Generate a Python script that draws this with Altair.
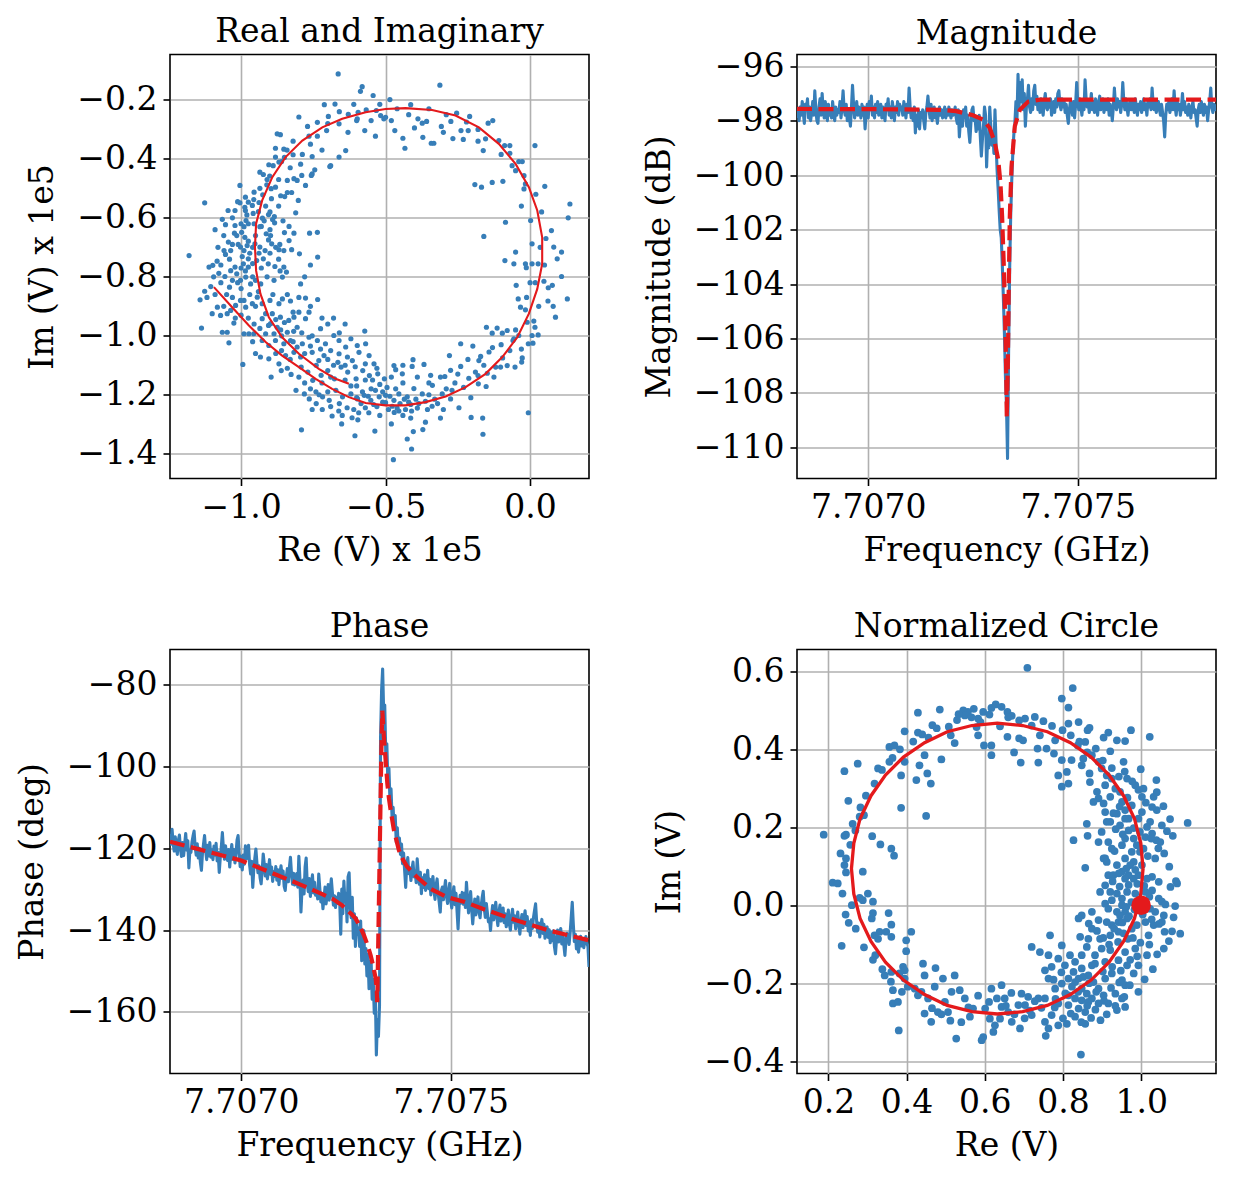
import altair as alt
import pandas as pd

# ---------------- data ----------------
F0_GHZ = 7.70733          # centre of the sweep (GHz)
STEP_KHZ = 2.5            # sweep step
START_KHZ = -500.0

MAG_DB = [
    -97.9, -97.6, -98.0, -97.5, -97.8, -97.3, -97.7, -98.1, -97.4, -97.6, -97.2, -97.9, -97.5, -98.0, -97.7, -97.3, -97.8, -96.9, -97.6, -98.0,
    -98.1, -97.5, -97.2, -97.8, -97.0, -97.6, -97.9, -97.3, -97.7, -98.0, -97.4, -97.8, -97.6, -97.9, -97.3, -97.7, -98.0, -97.5, -97.8, -97.6,
    -97.7, -97.3, -97.9, -97.5, -96.9, -97.6, -97.8, -97.4, -98.0, -97.6, -97.9, -98.2, -97.5, -96.7, -97.4, -97.9, -97.6, -97.3, -97.8, -97.5,
    -97.6, -97.9, -97.4, -97.8, -97.5, -98.3, -97.7, -97.4, -97.9, -97.3, -97.6, -97.1, -97.8, -97.5, -97.9, -97.4, -97.7, -97.3, -97.8, -97.6,
    -97.4, -97.9, -97.5, -97.7, -98.0, -97.4, -97.6, -97.2, -97.8, -97.5, -97.9, -97.3, -97.6, -98.0, -97.5, -97.7, -97.3, -97.8, -97.4, -97.6,
    -97.5, -97.8, -97.3, -97.6, -97.9, -97.4, -97.7, -96.8, -97.5, -97.9, -97.6, -98.0, -97.5, -98.45, -97.8, -98.2, -97.6, -98.3, -97.7, -97.9,
    -97.6, -98.0, -98.3, -97.7, -97.5, -97.1, -97.6, -97.9, -97.4, -98.0, -97.7, -97.5, -97.9, -97.6, -98.1, -97.7, -97.5, -97.8, -97.6, -97.9,
    -97.7, -97.5, -97.9, -97.6, -97.8, -97.5, -97.7, -97.9, -97.6, -97.8, -97.7, -97.5, -97.9, -98.1, -97.6, -98.6, -98.0, -97.7, -98.2, -97.6,
    -97.9, -97.5, -98.2, -97.8, -98.4, -98.8, -98.1, -97.6, -97.5, -98.0, -97.9, -98.4, -98.0, -98.3, -97.8, -98.6, -99.3, -98.7, -98.2, -97.5,
    -97.8, -99.7, -98.6, -99.0, -97.5, -98.2, -98.9, -98.4, -99.2, -97.6, -98.8, -99.8, -100.5, -101.3, -102.0, -102.3, -103.3, -104.5, -105.8, -107.4,
    -108.5, -110.4, -106.5, -103.5, -101.5, -100.2, -99.2, -98.5, -98.1, -97.3, -97.9, -96.3, -97.5, -96.6, -97.3, -96.5, -97.6, -97.0, -98.2, -97.5,
    -97.2, -96.7, -97.5, -97.7, -97.2, -97.6, -96.9, -96.7, -97.4, -97.1, -97.6, -97.3, -97.7, -97.2, -97.5, -97.8, -97.3, -97.0, -97.5, -97.6,
    -97.3, -97.5, -97.2, -97.8, -97.6, -97.3, -97.7, -97.2, -97.5, -97.0, -96.9, -97.4, -97.6, -97.2, -97.5, -97.3, -97.7, -97.4, -97.8, -98.1,
    -97.6, -97.3, -97.5, -97.8, -97.3, -97.9, -97.4, -96.6, -97.3, -97.6, -97.2, -97.5, -97.8, -97.3, -97.6, -96.5, -97.2, -97.5, -97.3, -97.7,
    -97.4, -97.0, -97.6, -97.3, -97.7, -97.2, -97.5, -97.8, -97.3, -97.1, -97.6, -97.4, -97.2, -97.7, -97.5, -97.3, -97.6, -97.2, -97.8, -97.4,
    -97.6, -98.0, -97.5, -96.8, -97.4, -97.6, -97.2, -97.5, -97.3, -97.7, -97.4, -96.6, -97.3, -97.6, -97.2, -97.5, -97.8, -97.4, -97.3, -97.6,
    -97.3, -97.5, -97.7, -97.2, -97.5, -97.8, -97.4, -97.6, -97.3, -97.7, -97.5, -97.2, -97.6, -97.4, -97.8, -97.3, -97.5, -97.2, -97.6, -96.8,
    -97.4, -97.6, -97.3, -97.7, -97.5, -97.3, -97.6, -97.8, -97.4, -97.7, -98.0, -98.6, -97.8, -97.4, -97.6, -97.3, -97.7, -97.5, -97.2, -97.6,
    -96.9, -97.5, -97.8, -97.3, -97.6, -97.4, -97.8, -97.5, -97.0, -97.6, -97.3, -97.7, -97.5, -97.8, -97.4, -97.6, -97.9, -97.5, -97.3, -97.7,
    -97.6, -97.9, -98.2, -97.6, -97.4, -97.7, -97.3, -97.6, -97.8, -97.4, -97.7, -97.5, -98.0, -97.6, -97.3, -96.8, -97.5, -97.7, -97.4, -97.6,
    -97.4,
]

PHASE_DEG = [
    -116.5, -119.0, -115.4, -118.8, -120.7, -117.2, -119.8, -121.5, -118.0, -116.8, -120.3, -122.0, -118.6, -121.8, -119.0, -116.4, -120.5, -118.2, -124.8, -120.5,
    -121.0, -118.5, -117.0, -115.8, -119.6, -121.7, -118.9, -122.4, -120.0, -123.5, -125.4, -121.2, -119.0, -116.9, -120.5, -122.8, -119.3, -121.9, -118.6, -122.2,
    -120.4, -122.8, -119.5, -121.7, -118.8, -123.1, -121.0, -125.9, -122.3, -119.7, -116.2, -120.1, -122.7, -119.4, -121.8, -123.0, -120.3, -124.6, -121.4, -119.1,
    -122.7, -120.3, -123.6, -121.4, -118.0, -116.9, -121.2, -124.5, -122.0, -125.3, -121.7, -123.9, -119.4, -122.6, -120.8, -119.3, -124.1, -126.3, -123.2, -129.6,
    -125.1, -122.4, -120.2, -123.7, -126.0, -124.3, -127.2, -128.7, -125.5, -121.4, -123.9, -126.8, -124.0, -127.5, -125.2, -122.8, -126.4, -124.6, -128.1, -125.7,
    -126.9, -124.5, -127.8, -125.3, -128.9, -126.0, -124.3, -127.4, -125.6, -129.3, -130.3, -127.1, -125.0, -128.2, -124.6, -122.2, -126.3, -128.8, -126.1, -129.0,
    -128.0, -126.2, -129.5, -122.0, -127.3, -135.6, -130.1, -127.8, -131.2, -124.5, -122.4, -128.7, -130.6, -127.4, -131.8, -129.0, -126.5, -130.9, -128.3, -131.5,
    -130.2, -132.4, -126.3, -129.8, -133.1, -131.0, -134.8, -132.2, -129.5, -133.6, -131.4, -128.9, -132.7, -130.3, -127.5, -130.8, -133.9, -131.6, -134.5, -132.0,
    -133.5, -131.0, -133.0, -141.0, -130.0, -136.0, -128.0, -133.0, -131.0, -138.0, -127.0, -126.0, -134.0, -137.0, -132.0, -142.0, -136.0, -144.0, -137.0, -141.0,
    -139.5, -144.0, -137.8, -147.5, -142.6, -140.1, -148.3, -144.5, -151.2, -146.0, -154.3, -149.8, -147.5, -156.9, -152.0, -160.3, -155.1, -170.5, -162.0, -166.0,
    -158.5, -93.0, -81.5, -76.2, -87.0, -85.0, -97.0, -94.5, -104.0, -100.5, -108.5, -105.5, -112.5, -110.0, -115.5, -112.0, -118.5, -115.0, -120.0, -117.5,
    -121.5, -119.0, -123.8, -121.2, -125.5, -129.6, -124.0, -122.3, -126.2, -124.8, -127.9, -125.1, -123.4, -127.0, -125.6, -128.4, -122.6, -126.3, -128.8, -125.9,
    -131.1, -127.2, -129.6, -126.5, -130.3, -128.0, -125.4, -129.9, -127.6, -131.4, -128.8, -126.9, -130.2, -132.5, -129.1, -127.5, -131.0, -133.2, -135.6, -130.4,
    -129.5, -132.6, -130.0, -127.9, -131.8, -133.5, -130.7, -128.6, -132.9, -134.6, -131.2, -129.4, -133.8, -131.0, -135.2, -139.7, -134.0, -131.5, -133.4, -130.8,
    -133.7, -131.0, -134.5, -128.3, -132.2, -135.8, -133.0, -130.6, -134.9, -138.5, -135.1, -132.4, -136.3, -133.8, -131.9, -135.6, -137.0, -134.2, -132.1, -130.5,
    -134.6, -136.9, -133.5, -135.8, -138.0, -137.2, -140.1, -136.3, -134.0, -137.5, -135.4, -133.2, -136.8, -138.9, -135.7, -133.9, -137.8, -136.1, -134.6, -138.2,
    -136.0, -139.2, -137.4, -135.1, -138.6, -140.0, -136.8, -134.9, -138.1, -136.5, -139.7, -137.3, -135.6, -138.8, -141.0, -137.9, -136.2, -139.4, -137.0, -135.3,
    -138.9, -136.7, -140.2, -138.0, -141.3, -137.5, -139.6, -136.9, -135.2, -133.6, -137.8, -140.5, -138.3, -141.7, -139.0, -137.4, -140.8, -138.6, -142.0, -139.5,
    -139.2, -141.8, -139.9, -143.1, -140.5, -142.6, -140.2, -144.0, -145.8, -142.3, -140.0, -142.9, -141.2, -139.6, -143.4, -141.0, -143.7, -146.2, -142.5, -140.8,
    -141.9, -143.5, -140.6, -137.0, -133.2, -138.5, -142.8, -141.0, -144.6, -142.2, -145.4, -143.0, -141.5, -143.9, -142.1, -144.3, -142.7, -141.6, -143.2, -144.0,
    -149.0,
]

MAG_FIT_KHZ = [-500, -300, -160, -120, -80, -56, -40, -28, -20, -14.4, -10.5, -6.5, -3.3, -0.9, 0.7,
               3.1, 5.5, 7.9, 11.9, 19.9, 31.8, 51.8, 79.7, 200, 500]
MAG_FIT_DB = [-97.57, -97.58, -97.6, -97.65, -97.8, -97.96, -98.27, -98.8, -99.4, -100.3, -101.5, -103.3, -105.2, -107.0, -108.9,
              -107.0, -103.97, -101.5, -99.7, -98.2, -97.6, -97.3, -97.23, -97.23, -97.23]

PHASE_FIT_KHZ = [-500, -400, -330, -260, -193, -150, -113, -90, -77, -67, -57, -47, -37, -29, -21, -15, -9, -7, -5.3,
                 4.5, 6.7, 10.5, 14.6, 18.7, 22.5, 26.6, 34.5, 46.4, 56, 66.5, 90, 122, 162, 200, 246, 326, 405, 500]
PHASE_FIT_DEG = [-118.4, -121.1, -123.0, -125.9, -128.7, -130.6, -132.3, -133.9, -135.2, -136.1, -137.2, -139.0, -141.3, -143.5, -146.2, -148.8, -151.9, -154.2, -157.6,
                 -96.0, -86.4, -92.9, -98.5, -104.2, -107.8, -110.7, -115.6, -120.5, -122.8, -124.6, -127.1, -129.9, -132.0, -133.0, -134.8, -137.6, -140.1, -142.5]

# Real / imaginary raw data (units of 1e-5 V)
RI_POINTS = [
    (-0.664, -0.112), (-0.312, -0.150), (-0.581, -0.155), (-0.587, -0.171), (-0.543, -0.185), (-0.485, -0.199),
    (-0.712, -0.216), (-0.675, -0.214), (-0.413, -0.216), (-0.800, -0.258), (-0.736, -0.276), (-0.698, -0.256),
    (-0.629, -0.249), (-0.595, -0.242), (-0.567, -0.234), (-0.532, -0.236), (-0.517, -0.253), (-0.506, -0.264),
    (-0.500, -0.259), (-0.661, -0.281), (-0.630, -0.310), (-0.598, -0.264), (-0.704, -0.304), (-0.736, -0.323),
    (-0.765, -0.323), (-0.572, -0.304), (-0.535, -0.323), (-0.468, -0.304), (-0.440, -0.330), (-0.433, -0.364),
    (-0.388, -0.264), (-0.400, -0.295), (-0.373, -0.279), (-0.358, -0.273), (-0.371, -0.327), (-0.342, -0.347),
    (-0.333, -0.347), (-0.307, -0.290), (-0.274, -0.273), (-0.254, -0.245), (-0.209, -0.256), (-0.267, -0.331),
    (-0.231, -0.334), (-0.239, -0.304), (-0.214, -0.304), (-0.145, -0.279), (-0.129, -0.270), (-0.154, -0.332),
    (-0.108, -0.338), (-0.088, -0.355), (-0.070, -0.355), (-0.162, -0.372), (-0.070, -0.381), (0.017, -0.355),
    (-0.039, -0.409), (-0.027, -0.409), (-0.062, -0.423), (-0.021, -0.457), (-0.016, -0.485), (0.051, -0.493),
    (-0.191, -0.487), (-0.168, -0.496), (-0.131, -0.480), (-0.094, -0.476), (-0.021, -0.502), (-0.638, -0.372),
    (-0.661, -0.394), (-0.690, -0.423), (-0.754, -0.451),
    (-0.875, -0.315), (-0.864, -0.318), (-0.881, -0.364), (-0.852, -0.367), (-0.841, -0.370), (-0.881, -0.394),
    (-0.860, -0.409), (-0.820, -0.386), (-0.788, -0.385), (-0.754, -0.392), (-0.904, -0.420), (-0.889, -0.423),
    (-0.869, -0.411), (-0.935, -0.445), (-0.923, -0.453), (-0.901, -0.458), (-0.794, -0.418), (-0.790, -0.456),
    (-0.817, -0.467), (-0.840, -0.473), (-0.806, -0.473), (-0.745, -0.437), (-0.757, -0.456), (-0.777, -0.490),
    (-0.693, -0.426), (-1.004, -0.490), (-0.911, -0.488), (-0.896, -0.501), (-0.881, -0.496), (-0.955, -0.513),
    (-0.956, -0.538), (-0.961, -0.558), (-0.925, -0.522), (-0.863, -0.525), (-0.849, -0.528), (-0.840, -0.514),
    (-0.825, -0.514), (-0.802, -0.541), (-0.811, -0.583), (-1.004, -0.549), (-1.021, -0.575), (-1.126, -0.549),
    (-0.987, -0.564), (-0.975, -0.547), (-0.940, -0.579), (-0.926, -0.601), (-0.905, -0.589), (-0.891, -0.606),
    (-0.885, -0.596), (-1.054, -0.623), (-1.021, -0.626), (-0.983, -0.609), (-0.975, -0.620), (-0.955, -0.620),
    (-0.930, -0.629), (-0.913, -0.654), (-0.884, -0.617), (-0.898, -0.660), (-0.834, -0.629), (-0.817, -0.652),
    (-0.763, -0.652), (-0.736, -0.649), (-1.023, -0.652), (-1.015, -0.660), (-0.998, -0.649), (-0.987, -0.666),
    (-0.975, -0.679), (-1.044, -0.682), (-1.059, -0.711), (-1.054, -0.724), (-1.036, -0.711), (-1.002, -0.699),
    (-0.990, -0.711), (-0.979, -0.694), (-0.996, -0.731), (-0.975, -0.739), (-0.952, -0.688), (-0.935, -0.699),
    (-0.917, -0.711), (-0.894, -0.688), (-0.869, -0.708), (-0.852, -0.711), (-0.834, -0.677), (-0.825, -0.708),
    (-0.798, -0.722), (-0.735, -0.733), (-1.180, -0.728), (-1.111, -0.767), (-1.098, -0.761), (-1.083, -0.747),
    (-1.077, -0.788), (-1.056, -0.799), (-1.036, -0.779), (-1.021, -0.767), (-1.015, -0.790), (-0.992, -0.756),
    (-0.975, -0.767), (-0.946, -0.745), (-0.923, -0.739), (-0.906, -0.756), (-0.883, -0.765), (-0.852, -0.767),
    (-0.843, -0.784), (-1.030, -0.812), (-1.002, -0.812), (-0.984, -0.801), (-0.967, -0.824), (-0.950, -0.812),
    (-0.932, -0.824), (-0.886, -0.812), (-0.857, -0.801), (-0.794, -0.824), (-1.142, -0.878), (-1.126, -0.849),
    (-1.105, -0.833), (-1.082, -0.903), (-1.100, -0.925), (-1.071, -0.931), (-1.048, -0.925), (-1.036, -0.914),
    (-1.019, -0.897), (-1.002, -0.880), (-0.984, -0.903), (-0.961, -0.891), (-0.944, -0.869), (-0.927, -0.891),
    (-0.915, -0.925), (-0.892, -0.925), (-0.869, -0.891), (-0.857, -0.875), (-0.829, -0.882), (-0.777, -0.872),
    (-0.735, -0.877), (-1.137, -0.974), (-1.025, -0.957), (-1.065, -0.988), (-1.048, -0.988), (-1.042, -1.024),
    (-0.990, -0.993), (-0.973, -0.993), (-0.956, -0.993), (-0.927, -0.942), (-0.898, -0.959), (-0.875, -0.971),
    (-0.864, -0.937), (-0.835, -0.948), (-0.817, -0.937), (-0.800, -0.920), (-0.777, -0.942), (-0.765, -0.920),
    (-0.915, -0.993), (-0.886, -0.993), (-0.863, -0.980), (-0.840, -0.988), (-0.806, -0.971), (-0.754, -1.000),
    (-0.725, -0.976), (-0.572, -0.984),
    (-1.060, -0.660), (-1.040, -0.740), (-1.010, -0.690), (-0.970, -0.720), (-0.950, -0.660), (-0.930, -0.770),
    (-1.030, -0.600), (-0.990, -0.630), (-0.960, -0.800), (-1.080, -0.700), (-1.070, -0.820), (-0.940, -0.850),
    (-0.910, -0.800), (-0.970, -0.860), (-1.000, -0.840), (-1.050, -0.860), (-0.920, -0.610), (-0.900, -0.720),
    (-0.870, -0.740), (-0.890, -0.860),
    (-0.927, -1.016), (-0.881, -1.016), (-0.904, -1.033), (-0.852, -1.027), (-0.829, -1.016), (-0.806, -1.038),
    (-0.788, -1.027), (-0.765, -1.005), (-0.736, -1.016), (-0.708, -1.027), (-0.679, -0.999), (-0.661, -1.016),
    (-0.638, -1.038), (-0.598, -1.033), (-0.569, -1.027), (-0.933, -1.072), (-0.904, -1.078), (-0.869, -1.095),
    (-0.846, -1.067), (-0.817, -1.056), (-0.794, -1.072), (-0.754, -1.056), (-0.731, -1.084), (-0.713, -1.067),
    (-0.690, -1.050), (-0.661, -1.061), (-0.632, -1.072), (-0.615, -1.084), (-0.592, -1.056), (-0.557, -1.067),
    (-0.540, -1.095), (-0.994, -1.097), (-0.896, -1.140), (-0.861, -1.118), (-0.827, -1.131), (-0.792, -1.106),
    (-0.769, -1.123), (-0.752, -1.151), (-0.723, -1.134), (-0.700, -1.118), (-0.677, -1.146), (-0.654, -1.106),
    (-0.631, -1.123), (-0.602, -1.146), (-0.579, -1.118), (-0.556, -1.135), (-0.527, -1.129), (-0.504, -1.146),
    (-0.810, -1.185), (-0.781, -1.197), (-0.764, -1.214), (-0.741, -1.190), (-0.718, -1.207), (-0.695, -1.219),
    (-0.672, -1.185), (-0.649, -1.207), (-0.620, -1.197), (-0.597, -1.214), (-0.574, -1.202), (-0.551, -1.219),
    (-0.522, -1.207), (-0.500, -1.202), (-0.471, -1.219), (-0.454, -1.197), (-0.425, -1.207), (-0.402, -1.179),
    (-0.373, -1.197), (-0.338, -1.168), (-0.304, -1.197), (-0.275, -1.214), (-0.754, -1.250), (-0.719, -1.250),
    (-0.685, -1.272), (-0.662, -1.255), (-0.633, -1.244), (-0.616, -1.278), (-0.593, -1.261), (-0.570, -1.244),
    (-0.558, -1.261), (-0.541, -1.233), (-0.500, -1.227), (-0.477, -1.239), (-0.454, -1.255), (-0.431, -1.250),
    (-0.413, -1.233), (-0.362, -1.222), (-0.339, -1.239), (-0.246, -1.244), (-0.791, -1.319), (-0.652, -1.299),
    (-0.606, -1.339), (-0.596, -1.285), (-0.537, -1.323), (-0.480, -1.299), (-0.425, -1.350), (-0.413, -1.279),
    (-0.404, -1.325), (-0.410, -1.384), (-0.371, -1.318), (-0.362, -1.293), (-0.310, -1.279), (-0.204, -1.277),
    (-0.164, -1.279), (-0.163, -1.334), (-0.006, -1.261), (-0.473, -1.420),
    (-0.740, -1.230), (-0.700, -1.190), (-0.660, -1.230), (-0.620, -1.170), (-0.580, -1.190), (-0.530, -1.240),
    (-0.490, -1.250), (-0.450, -1.230), (-0.440, -1.270), (-0.680, -1.100), (-0.640, -1.150), (-0.600, -1.210),
    (-0.550, -1.180), (-0.510, -1.190), (-0.470, -1.260), (-0.520, -1.270), (-0.830, -1.080), (-0.780, -1.160),
    (-0.720, -1.160), (-0.860, -1.050),
    (-0.471, -1.101), (-0.465, -1.115), (-0.442, -1.129), (-0.405, -1.081), (-0.408, -1.104), (-0.367, -1.097),
    (-0.344, -1.134), (-0.295, -1.138), (-0.279, -1.067), (-0.275, -1.117), (-0.240, -1.104), (-0.240, -1.027),
    (-0.198, -1.035), (-0.177, -1.084), (-0.171, -1.070), (-0.189, -1.123), (-0.148, -1.127), (-0.142, -1.055),
    (-0.179, -1.163), (-0.212, -1.144), (-0.152, -1.172), (-0.119, -1.106), (-0.102, -1.106), (-0.079, -1.101),
    (-0.052, -1.106), (-0.029, -1.089), (-0.027, -1.075), (-0.059, -1.016), (-0.096, -0.991), (-0.114, -0.974),
    (-0.131, -0.991), (-0.151, -0.971), (-0.079, -0.982), (-0.050, -0.980), (-0.039, -0.999), (-0.056, -1.010),
    (-0.010, -0.954), (0.013, -0.950), (0.017, -0.971), (0.007, -0.999), (0.028, -0.997), (-0.006, -1.027),
    (0.010, -1.025), (-0.016, -0.912), (-0.033, -0.903), (-0.048, -0.829), (-0.041, -0.875), (-0.013, -0.769),
    (0.007, -0.688), (0.002, -0.609), (-0.016, -0.756), (-0.050, -0.716), (-0.056, -0.756), (-0.087, -0.745),
    (-0.085, -0.615), (0.007, -0.756), (0.028, -0.756), (0.048, -0.815), (0.063, -0.837), (0.077, -0.829),
    (0.109, -0.799), (0.062, -0.882), (0.088, -0.937), (0.129, -0.875), (0.094, -0.739), (0.109, -0.716),
    (0.082, -0.699), (0.074, -0.643), (0.132, -0.600), (0.138, -0.553), (-0.160, -0.663),
    (-1.090, -0.640), (-1.065, -0.605), (-1.045, -0.575), (-1.012, -0.545), (-0.985, -0.530), (-0.958, -0.585),
    (-0.938, -0.548), (-0.915, -0.560), (-0.895, -0.535), (-0.870, -0.560), (-0.855, -0.610), (-0.850, -0.650),
    (-0.866, -0.690), (-0.905, -0.675), (-0.938, -0.720), (-0.960, -0.755), (-0.985, -0.780), (-1.012, -0.820),
    (-1.040, -0.835), (-1.070, -0.760), (-1.095, -0.800), (-1.118, -0.870), (-1.090, -0.860), (-1.060, -0.900),
    (-1.030, -0.870), (-1.000, -0.930), (-0.975, -0.940), (-0.955, -0.960), (-0.935, -0.975), (-0.905, -0.965),
    (-0.880, -0.945), (-0.850, -0.955), (-0.818, -0.985), (-0.790, -0.990), (-0.760, -1.035), (-0.725, -1.045),
    (-0.700, -1.080), (-0.665, -1.090), (-0.640, -1.100), (-0.605, -1.105), (-0.570, -1.095), (-0.545, -1.150),
    (-0.520, -1.165), (-0.495, -1.175), (-0.465, -1.180), (-0.440, -1.160), (-0.420, -1.225), (-0.390, -1.245),
    (-0.395, -1.215), (-0.350, -1.200), (-0.320, -1.230), (-0.290, -1.180), (-0.260, -1.160), (-0.230, -1.175),
    (-0.205, -1.210), (-0.180, -1.135), (-0.125, -1.140), (-0.095, -1.075), (-0.070, -1.050), (-0.030, -1.045),
    (-0.012, -0.870), (0.018, -0.820), (0.035, -0.700), (0.055, -0.670), (0.040, -0.580), (0.020, -0.520),
    (-0.050, -0.440), (-0.100, -0.385), (-0.180, -0.300), (-0.220, -0.275), (-0.290, -0.250), (-0.350, -0.230),
    (-0.420, -0.250), (-0.460, -0.230), (-0.520, -0.215), (-0.610, -0.215), (-0.660, -0.240), (-0.700, -0.280),
    (-0.770, -0.290), (-0.820, -0.340), (-0.850, -0.395), (-0.910, -0.470), (-0.935, -0.500), (-0.980, -0.590),
    (-1.000, -0.620), (-0.760, -0.760), (-0.780, -0.800), (-0.700, -0.960), (-0.660, -0.990), (-0.620, -1.010),
    (-0.985, -0.575), (-1.030, -0.690), (-1.000, -0.770), (-0.960, -0.700), (-0.935, -0.630), (-0.900, -0.640),
    (-0.880, -0.700), (-0.865, -0.780), (-0.900, -0.880), (-0.950, -0.900), (-0.990, -0.880), (-1.020, -0.940),
    (-0.960, -1.020), (-0.880, -1.060), (-0.840, -1.110), (-0.800, -1.140), (-0.760, -1.180), (-0.730, -1.200),
    (-0.690, -1.240), (-0.650, -1.270), (-0.610, -1.250), (-0.585, -1.230), (-0.560, -1.205), (-0.535, -1.185),
    (-0.510, -1.225), (-0.485, -1.205), (-0.460, -1.245), (-0.435, -1.215), (-0.410, -1.255), (-0.385, -1.230),
    (-0.355, -1.250), (-0.330, -1.215), (-0.300, -1.250), (-0.270, -1.185), (-0.250, -1.130), (-0.215, -1.080),
    (-0.160, -1.100), (-0.130, -1.040), (-0.100, -1.030), (-0.690, -1.140), (-0.740, -1.100), (-0.780, -1.060),
    (-0.820, -1.020), (-0.860, -1.000), (-0.950, -1.060), (-0.600, -1.170), (-0.570, -1.150), (-0.530, -1.110),
    (-0.480, -1.140), (-0.440, -1.100), (-0.390, -1.140), (-0.350, -1.160), (-0.310, -1.140), (-0.840, -0.860),
    (-0.820, -0.920), (-0.800, -0.870), (-0.760, -0.900), (-0.720, -0.940), (-0.680, -0.940), (-0.640, -0.960),
    (-0.900, -0.580), (-0.870, -0.470), (-0.830, -0.430), (-0.760, -0.350), (-0.720, -0.370), (-0.600, -0.270),
    (-0.550, -0.270), (-0.480, -0.270), (-0.300, -0.310), (-0.180, -0.340), (-0.030, -0.560), (0.050, -0.760),
    (0.080, -0.900), (0.030, -0.900), (0.000, -0.820),
]

# fitted curve in the raw plane (ordered along frequency)
RI_FIT = [
    (-1.094, -0.835), (-1.031, -0.903), (-0.973, -0.965), (-0.915, -1.021), (-0.858, -1.067), (-0.800, -1.106),
    (-0.742, -1.146), (-0.685, -1.180), (-0.627, -1.208), (-0.569, -1.228), (-0.500, -1.236), (-0.431, -1.236),
    (-0.362, -1.225), (-0.292, -1.206), (-0.223, -1.174), (-0.154, -1.129), (-0.096, -1.072), (-0.044, -1.005),
    (-0.004, -0.925), (0.025, -0.841), (0.042, -0.756), (0.042, -0.666), (0.025, -0.575), (-0.004, -0.496),
    (-0.050, -0.417), (-0.108, -0.349), (-0.177, -0.293), (-0.258, -0.253), (-0.339, -0.234), (-0.431, -0.228),
    (-0.500, -0.231), (-0.569, -0.242), (-0.650, -0.264), (-0.719, -0.293), (-0.788, -0.338), (-0.846, -0.394),
    (-0.892, -0.462), (-0.927, -0.541), (-0.948, -0.620), (-0.952, -0.699), (-0.948, -0.779), (-0.933, -0.858),
    (-0.904, -0.937), (-0.858, -1.005), (-0.800, -1.061), (-0.731, -1.112), (-0.673, -1.146), (-0.627, -1.163),
]

# normalized circle data
NC_POINTS = [
    (0.709, 0.609), (0.825, 0.557), (0.797, 0.530), (0.814, 0.507), (0.814, 0.466), (0.628, 0.515), (0.617, 0.506),
    (0.643, 0.509), (0.658, 0.496), (0.669, 0.486), (0.596, 0.496), (0.572, 0.504), (0.557, 0.496), (0.545, 0.500),
    (0.529, 0.475), (0.549, 0.487), (0.583, 0.479), (0.589, 0.470), (0.485, 0.502), (0.429, 0.494), (0.466, 0.462),
    (0.395, 0.446), (0.429, 0.443), (0.440, 0.438), (0.513, 0.436), (0.523, 0.416), (0.579, 0.457), (0.583, 0.436),
    (0.598, 0.410), (0.617, 0.410), (0.617, 0.385), (0.639, 0.459), (0.658, 0.432), (0.688, 0.428), (0.698, 0.423),
    (0.675, 0.392), (0.692, 0.366), (0.737, 0.366), (0.735, 0.402), (0.728, 0.483), (0.703, 0.479), (0.741, 0.436),
    (0.758, 0.402), (0.780, 0.423), (0.777, 0.389), (0.797, 0.372), (0.788, 0.333), (0.810, 0.342), (0.822, 0.372),
    (0.797, 0.304), (0.814, 0.312), (0.840, 0.470), (0.857, 0.419), (0.863, 0.449), (0.868, 0.455), (0.838, 0.410),
    (0.852, 0.376), (0.848, 0.359), (0.868, 0.338), (0.869, 0.316), (0.891, 0.368), (0.899, 0.351), (0.912, 0.333),
    (0.916, 0.443), (0.904, 0.430), (0.938, 0.423), (0.959, 0.421), (0.974, 0.449), (1.022, 0.432), (0.921, 0.395),
    (0.955, 0.368), (0.999, 0.349), (0.964, 0.325), (0.985, 0.308), (1.006, 0.299), (1.039, 0.321), (1.002, 0.278),
    (1.032, 0.278), (1.040, 0.244), (1.028, 0.252), (0.887, 0.291), (0.891, 0.274), (0.904, 0.261), (0.921, 0.278),
    (0.934, 0.299), (0.951, 0.265), (0.938, 0.235), (0.959, 0.244), (0.968, 0.222), (0.993, 0.222), (1.023, 0.214),
    (1.053, 0.205), (1.066, 0.190), (1.119, 0.211), (1.039, 0.167), (1.011, 0.175), (1.028, 0.184), (1.049, 0.162),
    (1.059, 0.133), (1.036, 0.120), (1.006, 0.145), (0.989, 0.154), (0.981, 0.171), (0.959, 0.171), (0.976, 0.137),
    (0.981, 0.111), (0.972, 0.103), (0.959, 0.120), (0.908, 0.120), (0.932, 0.139), (0.891, 0.162), (0.899, 0.188),
    (0.921, 0.214), (0.861, 0.209), (0.863, 0.178), (0.827, 0.167), (0.857, 0.096), (0.904, 0.120), (0.912, 0.111),
    (0.916, 0.077), (0.929, 0.077), (0.951, 0.086), (0.968, 0.077), (0.981, 0.068), (0.993, 0.077), (1.028, 0.073),
    (1.045, 0.060), (1.075, 0.047), (1.092, 0.056), (0.908, 0.051), (0.895, 0.034), (0.921, 0.034), (0.938, 0.030),
    (0.951, 0.017), (0.964, 0.034), (0.985, 0.030), (1.011, 0.034), (1.045, 0.017), (1.087, -0.002), (1.023, -0.009),
    (1.036, -0.017), (1.058, -0.026), (1.053, -0.043), (1.032, -0.051), (1.011, -0.043), (0.989, -0.051), (1.019, -0.077),
    (1.060, -0.068), (1.079, -0.067), (1.100, -0.073), (1.058, -0.111), (1.015, -0.128), (0.985, -0.111), (0.966, -0.086),
    (0.942, -0.068), (0.925, -0.051), (0.912, -0.043), (0.891, -0.038), (0.874, -0.017), (0.848, -0.026), (0.938, -0.017),
    (0.916, -0.009), (0.908, 0.004), (0.925, 0.013), (0.951, 0.000), (0.959, -0.017), (0.964, -0.034), (0.942, -0.043),
    (0.874, -0.060), (0.865, -0.086), (0.844, -0.081), (0.861, -0.107), (0.882, -0.128), (0.899, -0.111), (0.921, -0.115),
    (0.942, -0.141), (0.964, -0.154), (0.981, -0.175), (0.925, -0.175), (0.951, -0.192), (0.959, -0.205), (0.934, -0.227),
    (0.951, -0.239), (0.959, -0.261), (0.938, -0.269), (0.916, -0.252), (0.904, -0.231), (0.891, -0.214), (0.878, -0.197),
    (0.865, -0.180), (0.848, -0.162), (0.831, -0.145), (0.818, -0.128), (0.805, -0.154), (0.788, -0.137), (0.763, -0.128),
    (0.767, -0.077), (0.720, -0.107), (0.741, -0.120), (0.771, -0.158), (0.754, -0.167), (0.763, -0.188), (0.780, -0.214),
    (0.797, -0.201), (0.814, -0.188), (0.831, -0.197), (0.848, -0.214), (0.861, -0.227), (0.848, -0.244), (0.874, -0.239),
    (0.891, -0.252), (0.840, -0.265), (0.857, -0.274), (0.865, -0.248), (0.831, -0.286), (0.857, -0.304), (0.810, -0.304),
    (0.788, -0.308), (0.771, -0.282), (0.754, -0.299), (0.763, -0.316), (0.756, -0.335), (0.737, -0.239), (0.711, -0.235),
    (0.694, -0.227), (0.703, -0.256), (0.690, -0.316), (0.669, -0.299), (0.660, -0.274), (0.651, -0.239), (0.643, -0.205),
    (0.617, -0.214), (0.611, -0.248), (0.643, -0.261), (0.626, -0.308), (0.622, -0.325), (0.639, -0.291), (0.596, -0.338),
    (0.592, -0.346), (0.613, -0.291), (0.570, -0.265), (0.562, -0.286), (0.549, -0.239), (0.536, -0.218), (0.515, -0.222),
    (0.498, -0.248), (0.506, -0.274), (0.480, -0.274), (0.463, -0.299), (0.446, -0.278), (0.438, -0.222), (0.421, -0.214),
    (0.403, -0.209), (0.429, -0.231), (0.455, -0.239), (0.472, -0.209), (0.493, -0.188), (0.474, -0.161), (0.442, -0.150),
    (0.446, -0.180), (0.523, -0.180), (0.527, -0.342), (0.380, -0.321), (0.365, -0.252), (0.378, -0.248), (0.365, -0.218),
    (0.391, -0.158), (0.395, -0.167), (0.382, -0.175), (0.395, -0.188), (0.361, -0.171), (0.344, -0.180), (0.320, -0.128),
    (0.331, -0.068), (0.348, -0.068), (0.361, -0.081), (0.327, -0.086), (0.318, -0.077), (0.399, -0.090), (0.399, -0.118),
    (0.412, -0.068), (0.234, -0.104), (0.244, -0.024), (0.260, 0.000), (0.280, 0.019), (0.288, 0.013), (0.314, 0.009),
    (0.311, -0.034), (0.301, 0.030), (0.288, 0.086), (0.211, 0.058), (0.224, 0.056), (0.241, 0.103), (0.245, 0.120),
    (0.231, 0.133), (0.241, 0.178), (0.245, 0.181), (0.262, 0.209), (0.280, 0.227), (0.291, 0.231), (0.251, 0.268),
    (0.241, 0.344), (0.275, 0.363), (0.327, 0.351), (0.356, 0.368), (0.356, 0.406), (0.369, 0.410), (0.386, 0.333),
    (0.395, 0.368), (0.433, 0.359), (0.425, 0.321), (0.453, 0.338), (0.462, 0.312), (0.446, 0.385), (0.489, 0.374),
    (0.386, 0.250), (0.450, 0.229), (0.312, 0.177), (0.333, 0.156), (0.361, 0.145), (0.368, 0.127), (0.354, -0.020),
    (0.361, -0.050), (0.314, -0.020), (0.188, 0.181),
    (0.874, 0.385), (0.908, 0.308), (0.925, 0.325), (0.946, 0.291), (0.959, 0.222), (0.976, 0.256), (1.002, 0.239),
    (1.015, 0.201), (0.997, 0.188), (0.968, 0.192), (0.951, 0.154), (0.925, 0.145), (0.938, 0.103), (0.959, 0.068),
    (1.002, 0.103), (1.015, 0.068), (1.028, 0.038), (1.053, 0.009), (0.946, -0.026), (0.976, -0.060), (0.921, -0.077),
    (0.895, -0.086), (0.908, -0.145), (0.874, -0.154), (0.840, -0.188), (0.814, -0.231), (0.788, -0.252), (0.754, -0.239),
    (0.720, -0.282), (0.686, -0.256), (0.814, -0.256), (0.831, -0.239), (0.908, -0.188), (0.959, -0.120), (0.993, -0.154),
    (0.848, -0.128), (0.797, -0.103), (0.840, -0.034), (0.916, 0.162), (0.946, 0.205), (0.908, 0.239), (0.878, 0.265),
    (0.846, -0.383),
    (0.862, 0.392), (0.884, 0.402), (0.902, 0.371), (0.925, 0.352), (0.943, 0.330), (0.958, 0.343), (0.977, 0.318),
    (0.993, 0.296), (1.012, 0.263), (0.965, 0.276), (0.945, 0.253), (0.929, 0.236), (0.912, 0.214), (0.935, 0.195),
    (0.953, 0.182), (0.981, 0.198), (1.026, 0.171), (1.044, 0.146), (1.017, 0.126), (0.997, 0.137), (0.985, 0.091),
    (0.962, 0.094), (0.943, 0.082), (0.927, 0.061), (0.945, 0.048), (0.968, 0.052), (0.990, 0.055), (1.008, 0.050),
    (1.021, 0.022), (0.999, 0.012), (0.975, 0.008), (0.962, -0.004), (0.983, -0.011), (1.004, -0.024), (1.027, -0.036),
    (1.046, -0.048), (0.969, -0.028), (0.952, -0.044), (0.931, -0.060), (0.955, -0.072), (0.979, -0.084), (0.998, -0.096),
    (1.021, -0.101), (0.941, -0.094), (0.918, -0.101), (0.903, -0.084), (0.887, -0.066), (0.866, -0.047), (0.882, -0.150),
    (0.902, -0.170), (0.926, -0.158), (0.948, -0.168), (0.972, -0.140), (0.990, -0.131), (0.971, -0.205), (0.944, -0.198),
    (0.923, -0.212), (0.905, -0.245), (0.883, -0.268), (0.862, -0.258), (0.839, -0.222), (0.823, -0.209), (0.806, -0.226),
    (0.796, -0.172), (0.776, -0.191), (0.781, -0.240), (0.827, -0.171), (0.852, -0.184), (0.867, -0.200), (0.885, -0.222),
    (0.934, -0.258), (0.912, -0.280), (0.896, -0.295), (0.872, -0.289), (0.847, -0.300), (0.820, -0.278), (0.800, -0.290),
    (0.779, -0.262), (0.745, -0.263), (0.728, -0.246), (0.715, -0.270), (0.702, -0.290), (0.676, -0.280), (0.654, -0.258),
    (0.668, -0.225), (0.631, -0.239), (0.601, -0.265), (0.583, -0.232), (0.558, -0.262), (0.540, -0.300), (0.512, -0.296),
    (0.489, -0.280), (0.465, -0.264), (0.842, 0.420), (0.820, 0.436), (0.799, 0.449), (0.772, 0.460), (0.750, 0.472),
    (0.720, 0.461), (0.688, 0.474), (0.660, 0.482), (0.612, 0.489), (0.566, 0.482), (0.533, 0.490), (0.508, 0.458),
    (0.477, 0.454), (0.456, 0.430), (0.417, 0.420), (0.383, 0.400), (0.364, 0.378), (0.337, 0.347), (0.318, 0.312),
    (0.296, 0.281), (0.282, 0.251), (0.269, 0.192), (0.256, 0.155), (0.245, 0.084), (0.236, 0.030), (0.252, -0.045),
    (0.270, -0.060), (0.291, -0.108), (0.314, -0.140), (0.338, -0.164), (0.360, -0.196), (0.388, -0.222), (1.040, 0.290),
    (1.057, 0.254), (1.074, 0.221), (1.081, 0.178), (1.072, 0.099), (1.089, 0.062), (1.062, 0.002), (1.083, -0.031),
    (1.071, -0.092), (1.041, -0.126), (1.030, -0.164), (1.009, -0.190), (0.993, -0.222), (0.957, -0.235),
]

NC_FIT = [
    (1.005, 0.094), (0.999, 0.159), (0.983, 0.222), (0.955, 0.281), (0.918, 0.334), (0.872, 0.380), (0.819, 0.417),
    (0.760, 0.445), (0.697, 0.461), (0.632, 0.467), (0.567, 0.461), (0.504, 0.445), (0.446, 0.417), (0.392, 0.380),
    (0.346, 0.334), (0.309, 0.281), (0.281, 0.222), (0.265, 0.159), (0.259, 0.094), (0.265, 0.029), (0.281, -0.034),
    (0.309, -0.093), (0.346, -0.146), (0.392, -0.192), (0.446, -0.229), (0.504, -0.257), (0.567, -0.273), (0.632, -0.279),
    (0.697, -0.273), (0.760, -0.257), (0.819, -0.229), (0.872, -0.192), (0.918, -0.146), (0.955, -0.093), (0.983, -0.034),
    (0.999, 0.029), (1.005, 0.094),
]
NC_MARKER = [(1.0, 0.0)]

# ---------------- style ----------------
BLUE = "#377eb8"
RED = "#e41a1c"
FONT = "DejaVu Serif"
W, H = 419, 424


def lab(fmt):
    return f"replace(format(datum.value, '{fmt}'), '-', '\u2212')"


def axis(title, values, fmt, **kw):
    return alt.Axis(title=title, values=values, labelExpr=lab(fmt), **kw)


def sc(lo, hi):
    return alt.Scale(domain=[lo, hi], nice=False, zero=False)


# ---------------- frames ----------------
offsets = [START_KHZ + STEP_KHZ * i for i in range(len(MAG_DB))]
df_mag = pd.DataFrame({"f": [F0_GHZ + o * 1e-6 for o in offsets], "v": MAG_DB})
offsets_p = [START_KHZ + STEP_KHZ * i for i in range(len(PHASE_DEG))]
df_ph = pd.DataFrame({"f": [F0_GHZ + o * 1e-6 for o in offsets_p], "v": PHASE_DEG})
df_mag_fit = pd.DataFrame({"f": [F0_GHZ + o * 1e-6 for o in MAG_FIT_KHZ], "v": MAG_FIT_DB})
df_ph_fit = pd.DataFrame({"f": [F0_GHZ + o * 1e-6 for o in PHASE_FIT_KHZ], "v": PHASE_FIT_DEG})
df_ri = pd.DataFrame(RI_POINTS, columns=["re", "im"])
df_ri_fit = pd.DataFrame(RI_FIT, columns=["re", "im"]).reset_index().rename(columns={"index": "i"})
df_nc = pd.DataFrame(NC_POINTS, columns=["re", "im"])
df_nc_fit = pd.DataFrame(NC_FIT, columns=["re", "im"]).reset_index().rename(columns={"index": "i"})
df_nc_mark = pd.DataFrame(NC_MARKER, columns=["re", "im"])

F_SCALE = sc(F0_GHZ - 0.0005, F0_GHZ + 0.0005)
F_AXIS = axis("Frequency (GHz)", [7.707, 7.7075], ".4f")

# panel 1
x1 = alt.X("re:Q", scale=sc(-1.246, 0.204), axis=axis("Re (V) x 1e5", [-1.0, -0.5, 0.0], ".1f"))
y1 = alt.Y("im:Q", scale=sc(-1.484, -0.046),
           axis=axis("Im (V) x 1e5", [-1.4, -1.2, -1.0, -0.8, -0.6, -0.4, -0.2], ".1f"))
p1 = alt.layer(
    alt.Chart(df_ri).mark_circle(size=27, opacity=1, color=BLUE, clip=True).encode(x=x1, y=y1),
    alt.Chart(df_ri_fit).mark_line(color=RED, strokeWidth=2.1, clip=True).encode(x=x1, y=y1, order="i:Q"),
).properties(width=W, height=H, title="Real and Imaginary")

# panel 2
x2 = alt.X("f:Q", scale=F_SCALE, axis=F_AXIS)
y2 = alt.Y("v:Q", scale=sc(-111.14, -95.57),
           axis=axis("Magnitude (dB)", [-110, -108, -106, -104, -102, -100, -98, -96], "d"))
p2 = alt.layer(
    alt.Chart(df_mag).mark_line(color=BLUE, strokeWidth=3.1, strokeJoin="round", clip=True).encode(x=x2, y=y2),
    alt.Chart(df_mag_fit).mark_line(color=RED, strokeWidth=4.2, strokeDash=[15, 6.5], clip=True).encode(x=x2, y=y2),
).properties(width=W, height=H, title=alt.TitleParams(text="Magnitude", dy=6))

# panel 3
x3 = alt.X("f:Q", scale=F_SCALE, axis=F_AXIS)
y3 = alt.Y("v:Q", scale=sc(-175.04, -71.45),
           axis=axis("Phase (deg)", [-160, -140, -120, -100, -80], "d"))
p3 = alt.layer(
    alt.Chart(df_ph).mark_line(color=BLUE, strokeWidth=3.1, strokeJoin="round", clip=True).encode(x=x3, y=y3),
    alt.Chart(df_ph_fit).mark_line(color=RED, strokeWidth=4.2, strokeDash=[15, 6.5], clip=True).encode(x=x3, y=y3),
).properties(width=W, height=H, title="Phase")

# panel 4
x4 = alt.X("re:Q", scale=sc(0.1197, 1.1915), axis=axis("Re (V)", [0.2, 0.4, 0.6, 0.8, 1.0], ".1f"))
y4 = alt.Y("im:Q", scale=sc(-0.4316, 0.656),
           axis=axis("Im (V)", [-0.4, -0.2, 0.0, 0.2, 0.4, 0.6], ".1f"))
p4 = alt.layer(
    alt.Chart(df_nc).mark_circle(size=60, opacity=1, color=BLUE, clip=True).encode(x=x4, y=y4),
    alt.Chart(df_nc_fit).mark_line(color=RED, strokeWidth=3.3, clip=True).encode(x=x4, y=y4, order="i:Q"),
    alt.Chart(df_nc_mark).mark_circle(size=380, opacity=1, color=RED, clip=True).encode(x=x4, y=y4),
).properties(width=W, height=H, title="Normalized Circle")

chart = (
    alt.concat(p1, p2, p3, p4, columns=2, spacing=alt.RowColnumber(row=41, column=52))
    .properties(padding={"left": 15, "top": 14.5, "right": 10, "bottom": 10})
    .configure_view(stroke="black", strokeWidth=1.6)
    .configure_axis(
        domain=False, grid=True, gridColor="#b0b0b0", gridWidth=1.6,
        tickColor="black", tickWidth=1.6, tickSize=7,
        labelFont=FONT, labelFontSize=33, labelColor="black", labelPadding=6,
        labelOverlap=False, labelFlush=False,
        titleFont=FONT, titleFontSize=33, titleFontWeight="normal", titleColor="black", titlePadding=10,
    )
    .configure_axisY(titlePadding=17)
    .configure_title(font=FONT, fontSize=33, fontWeight="normal", color="black", anchor="middle",
                     frame="group", baseline="alphabetic", offset=5.5)
)

chart.save("out.html", embed_options={"renderer": "svg", "actions": False})
